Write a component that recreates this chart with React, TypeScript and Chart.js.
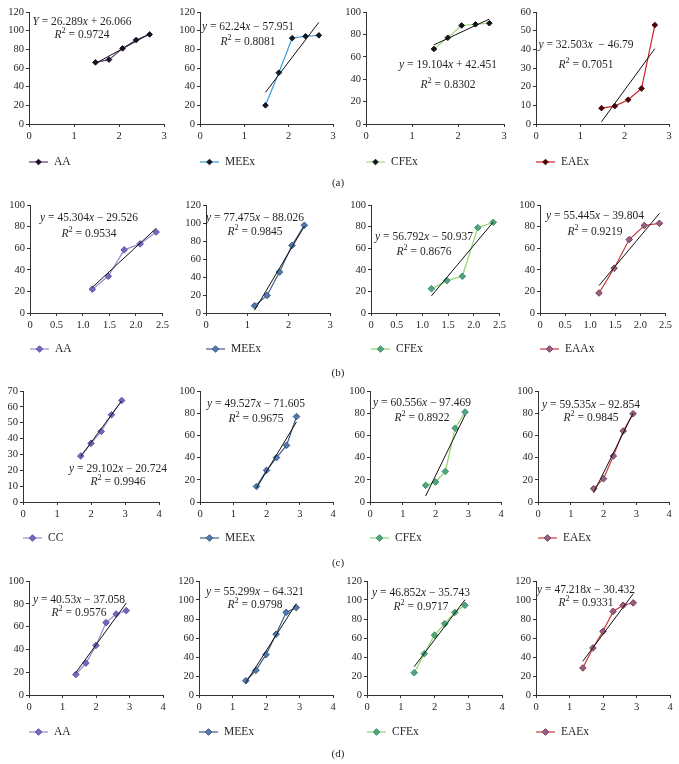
import React, { useEffect, useRef } from 'react';
import { Chart, registerables } from 'chart.js';

Chart.register(...registerables);

const FONT = '"Liberation Serif", "Times New Roman", serif';

// ---------- data ----------
const X_A = [1.477, 1.778, 2.079, 2.38, 2.681];
const X_B = [1.176, 1.477, 1.778, 2.079, 2.38];
const X_C = [1.699, 2.0, 2.301, 2.602, 2.903];
const X_D = [1.398, 1.699, 2.0, 2.301, 2.602, 2.903];

const A_AA = [66, 69, 81, 90, 96];
const A_MEEX = [20, 55, 92, 94, 95];
const A_CFEX = [67, 77, 88, 89, 90];
const A_EAEX = [8.5, 9.6, 13, 19, 53];

const B_AA = [22, 34, 58.5, 64, 75];
const B_MEEX = [8, 19.5, 45.5, 75, 97.5];
const B_CFEX = [22.5, 30, 34, 79, 84];
const B_EAAX = [18.5, 41.5, 68, 81, 83];

const C_CC = [29, 37, 44.5, 55, 64];
const C_MEEX = [14, 28.5, 40, 51, 77];
const C_CFEX = [15, 18, 27.5, 66.5, 81];
const C_EAEX = [12, 21, 41.5, 64, 79.5];

const D_AA = [18, 28, 43.5, 63.5, 71, 74];
const D_MEEX = [15, 26, 42.5, 64, 87, 92];
const D_CFEX = [23.5, 43.5, 63, 75, 87, 94.5];
const D_EAEX = [28.5, 49.5, 67, 88, 94.5, 97];

const SERIES_NAMES = [
  ['AA', 'MEEx', 'CFEx', 'EAEx'],
  ['AA', 'MEEx', 'CFEx', 'EAAx'],
  ['CC', 'MEEx', 'CFEx', 'EAEx'],
  ['AA', 'MEEx', 'CFEx', 'EAEx'],
];
const ROW_X = [X_A, X_B, X_C, X_D];
const ROW_Y = [
  [A_AA, A_MEEX, A_CFEX, A_EAEX],
  [B_AA, B_MEEX, B_CFEX, B_EAAX],
  [C_CC, C_MEEX, C_CFEX, C_EAEX],
  [D_AA, D_MEEX, D_CFEX, D_EAEX],
];

// trend lines (slope, intercept) and their labels
const SLOPES = [
  [26.289, 62.24, 19.104, 32.503],
  [45.304, 77.475, 56.792, 55.445],
  [29.102, 49.527, 60.556, 59.535],
  [40.53, 55.299, 46.852, 47.218],
];
const INTERCEPTS = [
  [26.066, -57.951, 42.451, -46.79],
  [-29.526, -88.026, -50.937, -39.804],
  [-20.724, -71.605, -97.469, -92.854],
  [-37.058, -64.321, -35.743, -30.432],
];
const EQ_TEXT = [
  ['Y = 26.289x + 26.066', 'y = 62.24x \u2212 57.951', 'y = 19.104x + 42.451', 'y = 32.503x  \u2212 46.79'],
  ['y = 45.304x \u2212 29.526', 'y = 77.475x \u2212 88.026', 'y = 56.792x \u2212 50.937', 'y = 55.445x \u2212 39.804'],
  ['y = 29.102x \u2212 20.724', 'y = 49.527x \u2212 71.605', 'y = 60.556x \u2212 97.469', 'y = 59.535x \u2212 92.854'],
  ['y = 40.53x \u2212 37.058', 'y = 55.299x \u2212 64.321', 'y = 46.852x \u2212 35.743', 'y = 47.218x \u2212 30.432'],
];
const R2_TEXT = [
  ['0.9724', '0.8081', '0.8302', '0.7051'],
  ['0.9534', '0.9845', '0.8676', '0.9219'],
  ['0.9946', '0.9675', '0.8922', '0.9845'],
  ['0.9576', '0.9798', '0.9717', '0.9331'],
];

// axis tick settings
const Y_MAX = [
  [120, 120, 100, 60],
  [100, 120, 100, 100],
  [70, 100, 100, 100],
  [100, 120, 120, 120],
];
const Y_STEP = [
  [20, 20, 20, 10],
  [20, 20, 20, 20],
  [10, 20, 20, 20],
  [20, 20, 20, 20],
];
const X_MAX = [
  [3, 3, 3, 3],
  [2.5, 3, 2.5, 2.5],
  [4, 4, 4, 4],
  [4, 4, 4, 4],
];
const X_STEP = [
  [1, 1, 1, 1],
  [0.5, 1, 0.5, 0.5],
  [1, 1, 1, 1],
  [1, 1, 1, 1],
];
const ROW_LABELS = ['(a)', '(b)', '(c)', '(d)'];

// ---------- layout / style ----------
const PANEL_LEFT = [0, 170, 339, 509];
const ROW_TOP = [0, 190, 380, 570];
const PLOT_TOP = [12, 205, 391, 581];
const PLOT_BOTTOM = [124, 313, 502, 695];
const LEGEND_Y = [162, 159, 158, 162];
const LABEL_Y = [182, 372, 562, 753];
const AXIS_X = [
  [29, 200, 366, 536],
  [30, 206, 371, 540],
  [23, 200, 370, 538],
  [29, 199, 367, 536],
];
const RIGHT_X = [
  [164, 333, 504, 669],
  [164, 330, 501, 667],
  [159, 333, 501, 669],
  [163, 333, 502, 670],
];
// equation centre (page coords): [cx, y line1, y line2]
const EQ_POS = [
  [[82, 22, 35], [248, 27, 42], [448, 65, 85], [586, 45, 65]],
  [[89, 218, 234], [255, 218, 232], [424, 237, 252], [595, 216, 232]],
  [[118, 469, 482], [256, 404, 419], [422, 403, 418], [591, 405, 418]],
  [[79, 600, 613], [255, 592, 605], [421, 593, 607], [586, 590, 603]],
];
const CANVAS_H = 180;
const X_AXIS_H = 22;
const EQ_SIZE = 11.5;

// colours: [line, marker fill, marker border]
const COLORS_A = [
  ['#5a3a78', '#1c1028', '#1c1028'],
  ['#3d9ad6', '#0e1a26', '#0e1a26'],
  ['#a6d88a', '#141414', '#141414'],
  ['#cc2229', '#4a0508', '#4a0508'],
];
const COLORS_REST = [
  ['#9a89d2', '#7866bd', '#6654aa'],
  ['#3d5b85', '#5279ab', '#3a5a86'],
  ['#8fd46c', '#4fa57f', '#3f8e6a'],
  ['#c73b3b', '#956082', '#7a3b5c'],
];

function drawRich(ctx: CanvasRenderingContext2D, text: string, cx: number, cy: number, size: number) {
  const parts = text.split(/([xyY])/).filter((s) => s.length > 0);
  const segs = parts.map((s) => ({ s, italic: /^[xyY]$/.test(s) }));
  let total = 0;
  for (const g of segs) {
    ctx.font = `${g.italic ? 'italic ' : ''}${size}px ${FONT}`;
    total += ctx.measureText(g.s).width;
  }
  let x = cx - total / 2;
  ctx.textBaseline = 'middle';
  ctx.textAlign = 'left';
  for (const g of segs) {
    ctx.font = `${g.italic ? 'italic ' : ''}${size}px ${FONT}`;
    ctx.fillText(g.s, x, cy);
    x += ctx.measureText(g.s).width;
  }
}

function drawR2(ctx: CanvasRenderingContext2D, val: string, cx: number, cy: number, size: number) {
  const rest = ' = ' + val;
  ctx.font = `italic ${size}px ${FONT}`;
  const wR = ctx.measureText('R').width;
  ctx.font = `${size * 0.72}px ${FONT}`;
  const w2 = ctx.measureText('2').width;
  ctx.font = `${size}px ${FONT}`;
  const wr = ctx.measureText(rest).width;
  let x = cx - (wR + w2 + wr) / 2;
  ctx.textBaseline = 'middle';
  ctx.textAlign = 'left';
  ctx.font = `italic ${size}px ${FONT}`;
  ctx.fillText('R', x, cy);
  x += wR;
  ctx.font = `${size * 0.72}px ${FONT}`;
  ctx.fillText('2', x, cy - 4);
  x += w2;
  ctx.font = `${size}px ${FONT}`;
  ctx.fillText(rest, x, cy);
}

function drawDiamond(ctx: CanvasRenderingContext2D, x: number, y: number, r: number, fill: string, stroke: string) {
  ctx.beginPath();
  ctx.moveTo(x, y - r);
  ctx.lineTo(x + r, y);
  ctx.lineTo(x, y + r);
  ctx.lineTo(x - r, y);
  ctx.closePath();
  ctx.fillStyle = fill;
  ctx.fill();
  ctx.strokeStyle = stroke;
  ctx.lineWidth = 1;
  ctx.stroke();
}

function Panel({ r, c }: { r: number; c: number }) {
  const ref = useRef<HTMLCanvasElement>(null);
  const left = PANEL_LEFT[c];
  const top = ROW_TOP[r];
  const width = RIGHT_X[r][c] + 8 - left;
  useEffect(() => {
    const canvas = ref.current;
    if (!canvas) return;
    const xs = ROW_X[r];
    const ys = ROW_Y[r][c];
    const m = SLOPES[r][c];
    const b = INTERCEPTS[r][c];
    const col = r === 0 ? COLORS_A[c] : COLORS_REST[c];
    const x0 = xs[0];
    const x1 = xs[xs.length - 1];
    const trend = [
      { x: x0, y: m * x0 + b },
      { x: x1, y: m * x1 + b },
    ];
    const pts = xs.map((x, i) => ({ x, y: ys[i] }));
    const padTop = PLOT_TOP[r] - top;
    const padBottom = CANVAS_H - X_AXIS_H - (PLOT_BOTTOM[r] - top);
    const yAxisW = AXIS_X[r][c] - left;
    const pr = r === 0 ? 2.8 : 3.3;
    const overlay = {
      id: 'overlay' + r + c,
      afterDraw(chart: any) {
        const ctx = chart.ctx as CanvasRenderingContext2D;
        ctx.save();
        ctx.fillStyle = '#231f20';
        const pos = EQ_POS[r][c];
        drawRich(ctx, EQ_TEXT[r][c], pos[0] - left, pos[1] - top, EQ_SIZE);
        ctx.fillStyle = '#231f20';
        drawR2(ctx, R2_TEXT[r][c], pos[0] - left, pos[2] - top, EQ_SIZE);
        // legend
        const lx = chart.chartArea.left;
        const ly = LEGEND_Y[r];
        ctx.strokeStyle = col[0];
        ctx.lineWidth = 1.2;
        ctx.beginPath();
        ctx.moveTo(lx, ly);
        ctx.lineTo(lx + 19, ly);
        ctx.stroke();
        drawDiamond(ctx, lx + 9.5, ly, pr, col[1], col[2]);
        ctx.fillStyle = '#231f20';
        ctx.font = `11.5px ${FONT}`;
        ctx.textAlign = 'left';
        ctx.textBaseline = 'middle';
        ctx.fillText(SERIES_NAMES[r][c], lx + 25, ly);
        ctx.restore();
      },
    };
    const tickFont = { family: FONT, size: 10.5 };
    const chart = new Chart(canvas, {
      type: 'scatter',
      data: {
        datasets: [
          {
            label: 'trend',
            data: trend,
            showLine: true,
            borderColor: '#111',
            borderWidth: 1,
            pointRadius: 0,
            order: 0,
          },
          {
            label: SERIES_NAMES[r][c],
            data: pts,
            showLine: true,
            borderColor: col[0],
            borderWidth: 1.2,
            pointStyle: 'rectRot',
            pointRadius: pr,
            pointBackgroundColor: col[1],
            pointBorderColor: col[2],
            pointBorderWidth: 1,
            order: 1,
          },
        ],
      },
      options: {
        animation: false,
        responsive: false,
        maintainAspectRatio: false,
        devicePixelRatio: 1,
        layout: { padding: { top: padTop, bottom: padBottom, left: 0, right: 8 } },
        plugins: { legend: { display: false }, tooltip: { enabled: false } },
        scales: {
          x: {
            type: 'linear',
            min: 0,
            max: X_MAX[r][c],
            ticks: { stepSize: X_STEP[r][c], font: tickFont, color: '#231f20', padding: 3, maxRotation: 0 },
            grid: { display: true, drawOnChartArea: false, drawTicks: true, tickLength: 3, color: '#333' },
            border: { display: true, color: '#333', width: 1 },
            afterFit: (s: any) => {
              s.height = X_AXIS_H;
            },
          },
          y: {
            type: 'linear',
            min: 0,
            max: Y_MAX[r][c],
            ticks: { stepSize: Y_STEP[r][c], font: tickFont, color: '#231f20', padding: 2 },
            grid: { display: true, drawOnChartArea: false, drawTicks: true, tickLength: 3, color: '#333' },
            border: { display: true, color: '#333', width: 1 },
            afterFit: (s: any) => {
              s.width = yAxisW;
            },
          },
        },
      },
      plugins: [overlay],
    } as any);
    return () => chart.destroy();
  }, [r, c]);
  return (
    <canvas
      ref={ref}
      width={width}
      height={CANVAS_H}
      style={{ position: 'absolute', left, top, width, height: CANVAS_H }}
    />
  );
}

export default function App() {
  const rows = [0, 1, 2, 3];
  const cols = [0, 1, 2, 3];
  return (
    <div
      style={{
        position: 'absolute',
        left: 0,
        top: 0,
        width: 679,
        height: 764,
        background: '#fff',
        overflow: 'hidden',
      }}
    >
      {rows.map((r) => cols.map((c) => <Panel key={`${r}-${c}`} r={r} c={c} />))}
      {rows.map((r) => (
        <div
          key={'lab' + r}
          style={{
            position: 'absolute',
            left: 338,
            top: LABEL_Y[r],
            transform: 'translate(-50%, -50%)',
            fontFamily: FONT,
            fontSize: 11,
            color: '#231f20',
            lineHeight: 1,
          }}
        >
          {ROW_LABELS[r]}
        </div>
      ))}
    </div>
  );
}
